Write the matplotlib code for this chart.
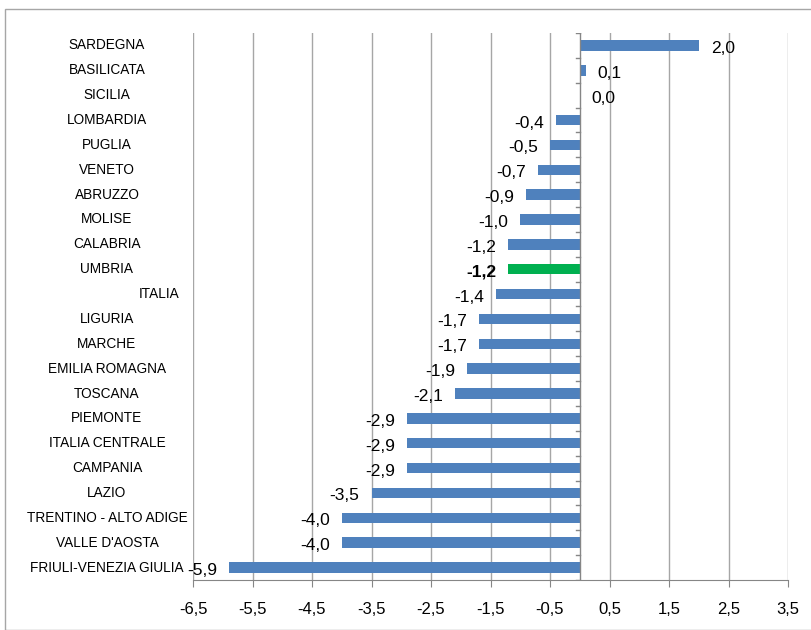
import matplotlib
matplotlib.use("Agg")
import matplotlib.pyplot as plt
from matplotlib.patches import Rectangle
import matplotlib.transforms as mtrans

categories = ["SARDEGNA", "BASILICATA", "SICILIA", "LOMBARDIA", "PUGLIA", "VENETO",
              "ABRUZZO", "MOLISE", "CALABRIA", "UMBRIA", "ITALIA", "LIGURIA", "MARCHE",
              "EMILIA ROMAGNA", "TOSCANA", "PIEMONTE", "ITALIA CENTRALE", "CAMPANIA",
              "LAZIO", "TRENTINO - ALTO ADIGE", "VALLE D'AOSTA", "FRIULI-VENEZIA GIULIA"]
values = [2.0, 0.1, 0.0, -0.4, -0.5, -0.7, -0.9, -1.0, -1.2, -1.2, -1.4, -1.7, -1.7,
          -1.9, -2.1, -2.9, -2.9, -2.9, -3.5, -4.0, -4.0, -5.9]
highlight = "UMBRIA"
xticks = [-6.5, -5.5, -4.5, -3.5, -2.5, -1.5, -0.5, 0.5, 1.5, 2.5, 3.5]

plt.rcParams['font.family'] = ["Liberation Sans Narrow", "Liberation Sans", "DejaVu Sans"]

fig = plt.figure(figsize=(8.11, 6.30), dpi=100)
W, H = 811, 630
ax = fig.add_axes([193 / W, 1 - 580 / H, (788 - 193) / W, (580 - 33) / H])

n = len(categories)
ypos = list(range(n))
colors = ["#00B050" if c == highlight else "#4F81BD" for c in categories]
ax.barh(ypos, values, height=0.42, color=colors, zorder=3)
ax.set_ylim(n - 0.5, -0.5)
ax.set_xlim(-6.5, 3.5)
ax.set_xticks(xticks)
ax.set_xticklabels([f"{t:.1f}".replace(".", ",") for t in xticks], fontsize=12)
ax.tick_params(axis='x', length=5, color="#868686", pad=11)
ax.set_yticks([])
ax.grid(axis='x', color="#A6A6A6", linewidth=1, zorder=0)
for s in ["top", "right", "left"]:
    ax.spines[s].set_visible(False)
ax.spines["bottom"].set_color("#868686")
ax.axvline(0, color="#868686", linewidth=1, zorder=4)
for i in range(n + 1):
    ax.plot([-0.07, 0], [i - 0.5, i - 0.5], color="#868686", lw=1, zorder=4)

for i, (c, v) in enumerate(zip(categories, values)):
    lab = f"{v:.1f}".replace(".", ",")
    bold = c == highlight
    if v >= 0:
        ax.text(v + 0.2, i + 0.12, lab, ha='left', va='center', fontsize=12.5,
                fontweight='bold' if bold else 'normal', zorder=5)
    else:
        ax.text(v - 0.2, i + 0.12, lab, ha='right', va='center', fontsize=12.5,
                fontweight='bold' if bold else 'normal', zorder=5)

trans = mtrans.blended_transform_factory(fig.transFigure, ax.transData)
for i, c in enumerate(categories):
    if c == "ITALIA":
        ax.text(180 / W, i, c, transform=trans, ha='right', va='center', fontsize=9.8)
    else:
        ax.text(107 / W, i, c, transform=trans, ha='center', va='center', fontsize=9.8)

fig.patches.append(Rectangle((5 / W, 0), 1, 1 - 9 / H, transform=fig.transFigure,
                             fill=False, edgecolor="#A6A6A6", linewidth=1))
fig.savefig("out.png", dpi=100)
